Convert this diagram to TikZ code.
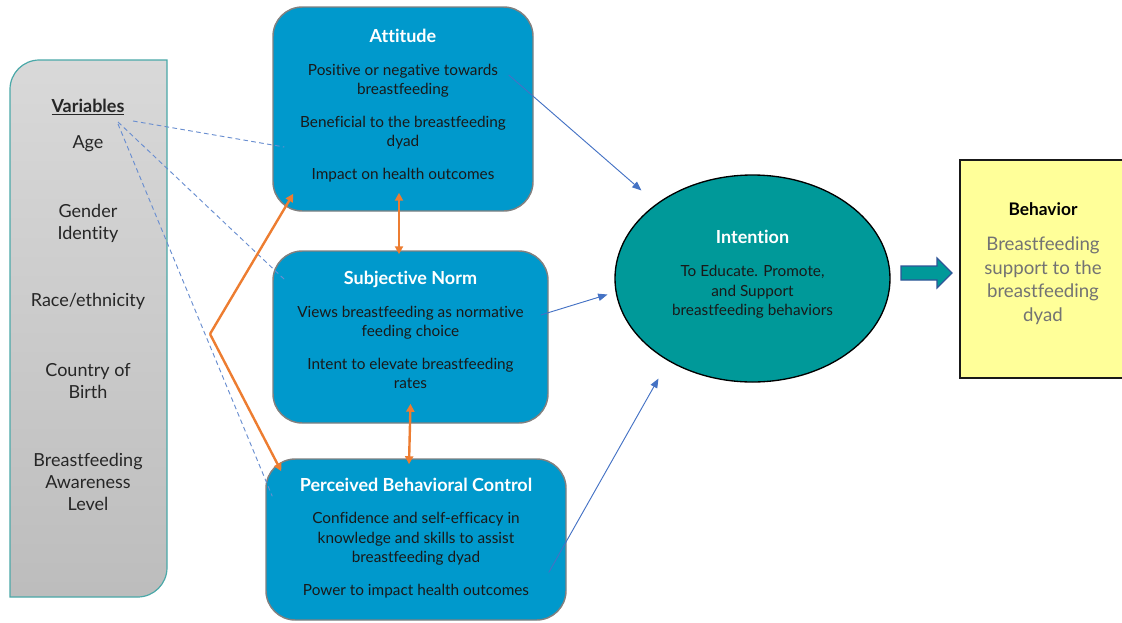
\documentclass[tikz,border=0pt]{standalone}
\usepackage{fontspec}
\setmainfont{Lato}[Ligatures=CommonOff]
\usetikzlibrary{calc,arrows.meta,shapes.geometric}
\definecolor{boxblue}{HTML}{0099CC}
\definecolor{ovalteal}{HTML}{009999}
\definecolor{forkorange}{HTML}{ED7D31}
\definecolor{linkblue}{HTML}{4472C4}
\definecolor{sideedge}{HTML}{4AA8A8}
\definecolor{notefill}{HTML}{FFFF99}
\definecolor{arrowedge}{HTML}{2F5597}
\tikzset{
  sidetext/.style={align=center, text=black!85, font=\fontsize{13.5}{16.5}\selectfont},
  factor/.style={draw=black!50, line width=1.1pt, fill=boxblue, rounded corners=22pt, inner sep=0pt},
  factortext/.style={align=center, text=black!90, font=\fontsize{11.5}{14.6}\selectfont},
  intent/.style={ellipse, draw=black, line width=1pt, fill=ovalteal, inner sep=0pt},
  outcome/.style={draw=black!90, line width=1.1pt, fill=notefill, inner sep=0pt},
  dashlink/.style={draw=linkblue!80, line width=0.7pt, dash pattern=on 3.5pt off 2.5pt},
  forklink/.style={draw=forkorange, line width=1.8pt, -{Triangle[length=6pt,width=6pt]}},
  pairlink/.style={draw=forkorange, line width=1.8pt, {Triangle[length=6pt,width=6pt]}-{Triangle[length=6pt,width=6pt]}},
  intentlink/.style={draw=linkblue, line width=0.7pt, -{Triangle[length=7pt,width=5.5pt]}}
}
\newcommand{\factorhead}[1]{{\color{white}\bfseries\fontsize{13.5}{16}\selectfont #1}}

\begin{document}
\begin{tikzpicture}[x=0.75pt,y=-0.75pt]
		%%%%% START %%%%%
		\useasboundingbox (0,0) rectangle (1122,622);
		
		% side panel with the variables
		\path[draw=sideedge, line width=0.9pt, top color=black!15, bottom color=black!26]
		  (10,330) [rounded corners=22pt] -- (10,60) -- (88,60) [sharp corners] -- (167,60) -- (167,330)
		  [rounded corners=22pt] -- (167,597) -- (88,597) [sharp corners] -- (10,597) -- cycle;
		
		\node[sidetext, font=\bfseries\fontsize{13.5}{16.5}\selectfont] (vars) at (88,107) {\underline{Variables}};
		\node[sidetext] (age) at (88,144) {Age};
		\node[sidetext] (gender) at (88,223) {Gender\\Identity};
		\node[sidetext] (race) at (88,301) {Race/ethnicity};
		\node[sidetext] (birth) at (88,381) {Country of\\Birth};
		\node[sidetext] (aware) at (88,482) {Breastfeeding\\Awareness\\Level};
		\coordinate (agept) at (118,122);
		\coordinate (fork) at (210,334);
		
		% the three factors
		\node[factor, minimum width=195pt, minimum height=153pt] (att) at (403,109) {};
		\node[factortext] (atttext) at (403,105.5) {\factorhead{Attitude}\\[10pt]Positive or negative towards\\breastfeeding\\[10pt]Beneficial to the breastfeeding\\dyad\\[10pt]Impact on health outcomes};
		
		\node[factor, minimum width=206.25pt, minimum height=129pt] (sn) at (410.5,337) {};
		\node[factortext] (sntext) at (410.5,330) {\factorhead{Subjective Norm}\\[10pt]Views breastfeeding as normative\\feeding choice\\[10pt]Intent to elevate breastfeeding\\rates};
		
		\node[factor, minimum width=225pt, minimum height=120.75pt] (pbc) at (416,539.5) {};
		\node[factortext] (pbctext) at (416,538) {\factorhead{Perceived Behavioral Control}\\[10pt]Confidence and self-efficacy in\\knowledge and skills to assist\\breastfeeding dyad\\[10pt]Power to impact health outcomes};
		
		% intention and behavior
		\node[intent, minimum width=206.25pt, minimum height=155.25pt] (int) at (752.5,278.5) {};
		\node[factortext] (inttext) at (752.5,274.5) {\factorhead{Intention}\\[10pt]To Educate. Promote,\\and Support\\breastfeeding behaviors};
		
		\node[outcome, minimum width=124.5pt, minimum height=163.5pt] (beh) at (1043,269) {};
		\node[align=center, text=black!55, font=\fontsize{14}{17.8}\selectfont] (behtext) at (1043,263.5) {{\color{black}\bfseries\fontsize{13}{16}\selectfont Behavior}\\[8.5pt]Breastfeeding\\support to the\\breastfeeding\\dyad};
		
		\draw[draw=arrowedge, line width=0.9pt, fill=ovalteal] (901,266) -- (937,266) -- (937,258) -- (952,273) -- (937,288) -- (937,280) -- (901,280) -- cycle;
		
		% dashed links from the variables
		\draw[dashlink] ($(agept)+(15,-1)$) -- ($(att.west)+(12,38)$);
		\draw[dashlink] (agept) -- ($(sn.north west)+(12,29)$);
		\draw[dashlink] ($(agept)+(0,2)$) -- ($(pbc.north west)+(7,38)$);
		
		% orange links
		\draw[forklink] (fork) -- ($(att.south west)+(21,-18)$);
		\draw[forklink] (fork) -- ($(pbc.north west)+(16,13)$);
		\draw[pairlink] ($(att.south)+(-4,-19)$) -- ($(sn.north)+(-11.5,4)$);
		\draw[pairlink] ($(sn.south)+(0,-20)$) -- ($(pbc.north)+(-7,6)$);
		
		% links into intention
		\draw[intentlink] ($(att.east)+(-25,-34)$) -- ($(int.center)+(-111,-88)$);
		\draw[intentlink] ($(sn.east)+(-8,-22)$) -- ($(int.center)+(-145,16)$);
		\draw[intentlink] ($(pbc.east)+(-18,33)$) -- ($(int.center)+(-94,100)$);
		
		%%%%% END %%%%%
\end{tikzpicture}
\end{document}
